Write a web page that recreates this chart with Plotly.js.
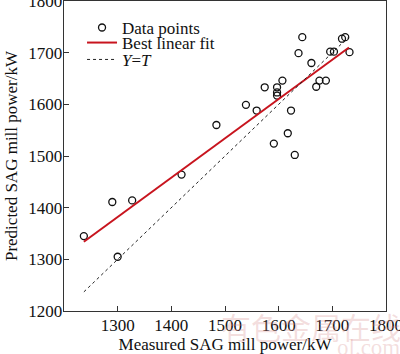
<!DOCTYPE html>
<html>
<head>
<meta charset="utf-8">
<script src="https://cdn.plot.ly/plotly-3.0.1.min.js"></script>
<style>html,body{margin:0;padding:0;background:#fff;}#chart{width:400px;height:354px;}</style>
</head>
<body>
<div id="chart"></div>
<script>
// Measured vs predicted SAG mill power (kW)
const measured = [1237, 1290, 1300, 1327, 1419, 1484, 1539, 1559, 1574, 1591, 1597, 1597, 1597, 1607,
  1617, 1623, 1630, 1637, 1644, 1661, 1670, 1676, 1688, 1696, 1703, 1718, 1724, 1732];
const predicted = [1345, 1411, 1305, 1414, 1464, 1560, 1599, 1588, 1633, 1524, 1633, 1623, 1617, 1646,
  1544, 1588, 1502, 1699, 1730, 1680, 1634, 1646, 1646, 1702, 1702, 1727, 1730, 1701];
const fitX = [1237, 1731];
const fitY = [1334, 1710];
const idealX = [1237, 1731];
const idealY = [1237, 1731];
const tickVals = [1200, 1300, 1400, 1500, 1600, 1700, 1800];
const xTickText = ['', '1300', '1400', '1500', '1600', '1700', '1800'];
const yTickText = ['1200', '1300', '1400', '1500', '1600', '1700', '1800'];

const serif = '"Liberation Serif", "Times New Roman", serif';
const wmColor = 'rgba(215,140,140,0.28)';

const traces = [
  {x: measured, y: predicted, mode: 'markers', type: 'scatter', name: 'Data points', legend: 'legend',
   marker: {symbol: 'circle-open', size: 7, color: '#111', line: {width: 1.3, color: '#111'}}},
  {x: fitX, y: fitY, mode: 'lines', type: 'scatter', name: 'Best linear fit', legend: 'legend2',
   line: {color: '#c8141e', width: 2}},
  {x: idealX, y: idealY, mode: 'lines', type: 'scatter', name: '<i>Y</i>=<i>T</i>', legend: 'legend3',
   line: {color: '#222', width: 1, dash: 'dot'}}
];

const axisCommon = {
  range: [1200, 1800], tickvals: tickVals, ticks: 'inside', ticklen: 5, tickwidth: 1,
  tickcolor: '#333', showline: true, linecolor: '#333', linewidth: 1.3, mirror: true,
  showgrid: false, zeroline: false, ticklabeloverflow: 'allow',
  tickfont: {family: serif, size: 17, color: '#111'}
};

function legendAt(yy) {
  return {x: 0.056, y: yy, xanchor: 'left', yanchor: 'middle', bgcolor: 'rgba(0,0,0,0)',
    font: {family: serif, size: 17, color: '#111'}};
}

const layout = {
  width: 400, height: 354,
  margin: {l: 64, r: 14, t: 1, b: 43},
  paper_bgcolor: '#fff', plot_bgcolor: '#fff',
  showlegend: true,
  legend: legendAt(0.913),
  legend2: legendAt(0.8645),
  legend3: legendAt(0.81),
  xaxis: Object.assign({}, axisCommon, {ticktext: xTickText, ticklabelstandoff: -2,
    title: {text: 'Measured SAG mill power/kW', font: {family: serif, size: 17, color: '#111'}, standoff: 4}}),
  yaxis: Object.assign({}, axisCommon, {ticktext: yTickText, ticklabelstandoff: -3,
    title: {text: 'Predicted SAG mill power/kW', font: {family: serif, size: 17, color: '#111'}, standoff: 6}}),
  annotations: [
    {text: '有色金属在线', xref: 'paper', yref: 'paper', x: 0.767, y: 0.03, xanchor: 'center', yanchor: 'top',
     showarrow: false, font: {family: 'Noto Sans CJK SC', size: 30, color: wmColor}},
    {text: 'ol.com', xref: 'paper', yref: 'paper', x: 1.05, y: -0.07, xanchor: 'right', yanchor: 'top',
     showarrow: false, font: {family: serif, size: 23, color: wmColor}}
  ]
};

Plotly.newPlot('chart', traces, layout, {displayModeBar: false, staticPlot: true});
</script>
</body>
</html>
